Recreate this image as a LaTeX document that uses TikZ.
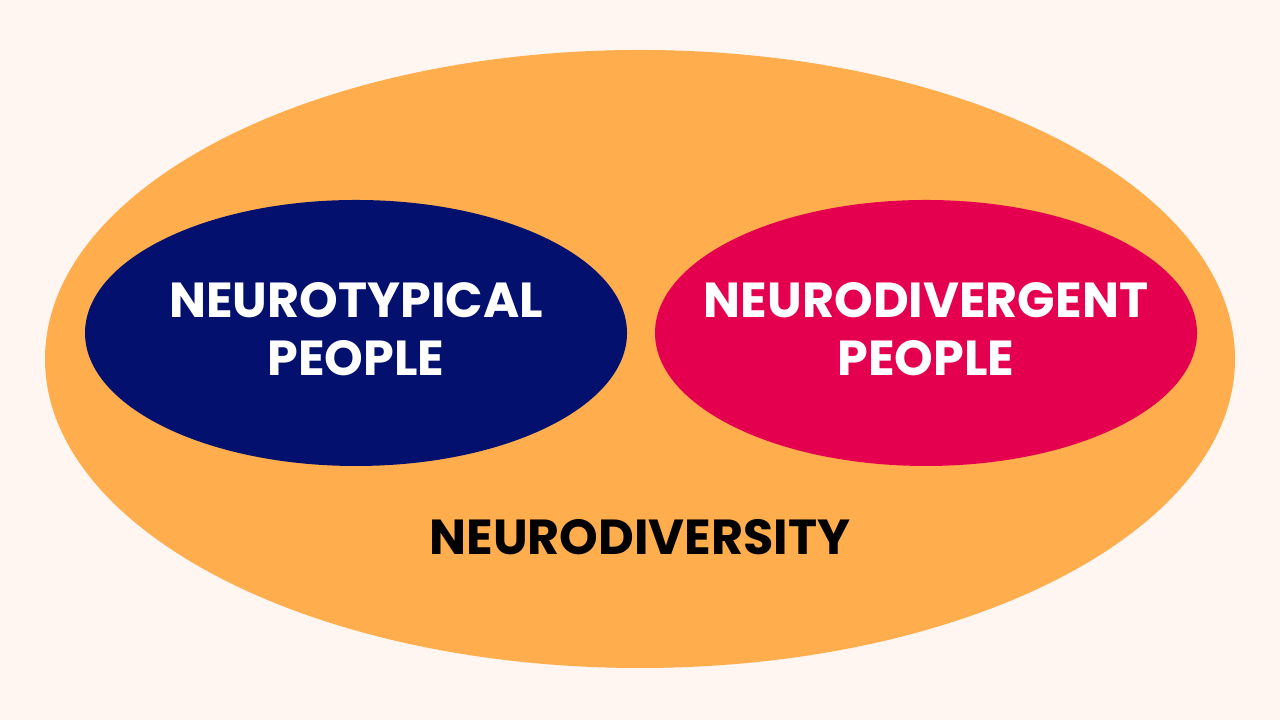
\documentclass[tikz,border=0pt]{standalone}
\usepackage{fontspec}
\setmainfont{Poppins}
\definecolor{NDBack}{RGB}{255, 246, 242}
\definecolor{NDOrange}{RGB}{255, 173, 77}
\definecolor{NDNavy}{RGB}{4, 16, 110}
\definecolor{NDRed}{RGB}{228, 0, 79}
\usetikzlibrary{positioning, shapes.geometric}

\begin{document}
\begin{tikzpicture}[
  every node/.style={font=\bfseries\fontsize{14}{16.5}\selectfont},
  outerset/.style={ellipse, fill=NDOrange, minimum width=11.9cm, minimum height=6.18cm, inner sep=0pt},
  groupset/.style={ellipse, minimum width=5.42cm, minimum height=2.66cm, inner sep=0pt},
  grouptext/.style={text=white, align=center, inner sep=0pt}
]
\fill[NDBack] (0,0) rectangle (12.8,7.2);
\useasboundingbox (0,0) rectangle (12.8,7.2);
\node[outerset] (diversity) at (6.40,3.61) {};
\node[groupset, fill=NDNavy] (typical) at (3.56,3.87) {};
\node[groupset, fill=NDRed] (divergent) at (9.26,3.87) {};
\node[grouptext] (typicaltext) at ([yshift=0.04cm]typical.center) {NEUROTYPICAL\\PEOPLE};
\node[grouptext] (divergenttext) at ([yshift=0.04cm]divergent.center) {NEURODIVERGENT\\PEOPLE};
\node[text=black] (label) at (6.40,1.83) {NEURODIVERSITY};
\end{tikzpicture}
\end{document}
